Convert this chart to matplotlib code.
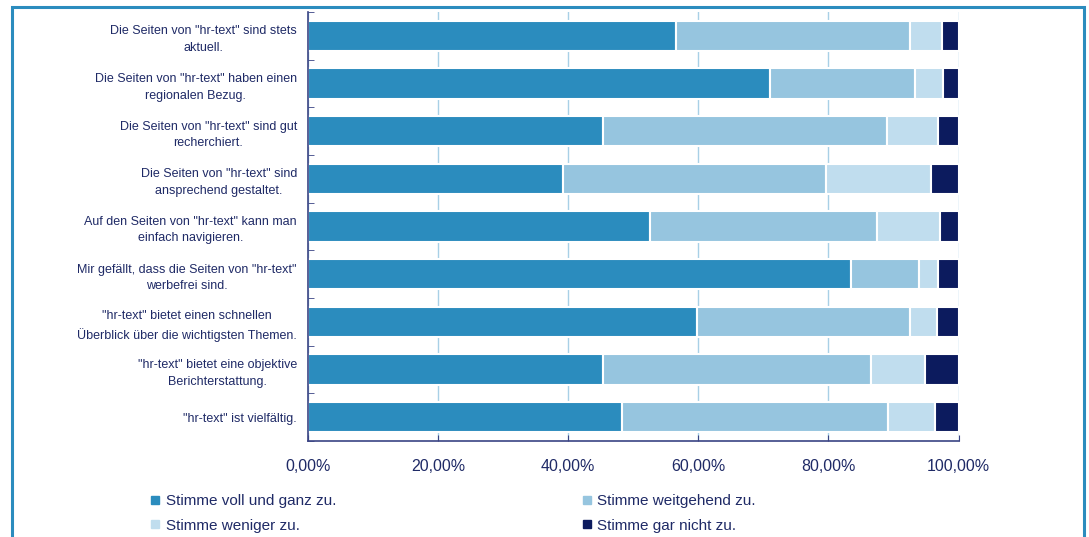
import numpy as np
import matplotlib
matplotlib.use("Agg")
import matplotlib.pyplot as plt
from matplotlib.lines import Line2D
from matplotlib.patches import Rectangle

plt.rcParams['font.family'] = ['Liberation Sans', 'DejaVu Sans']

# Statements (top to bottom)
labels = [
    'Die Seiten von "hr-text" sind stets\naktuell.',
    'Die Seiten von "hr-text" haben einen\nregionalen Bezug.',
    'Die Seiten von "hr-text" sind gut\nrecherchiert.',
    'Die Seiten von "hr-text" sind\nansprechend gestaltet.',
    'Auf den Seiten von "hr-text" kann man\neinfach navigieren.',
    'Mir gefällt, dass die Seiten von "hr-text"\nwerbefrei sind.',
    '"hr-text" bietet einen schnellen\nÜberblick über die wichtigsten Themen.',
    '"hr-text" bietet eine objektive\nBerichterstattung.',
    '"hr-text" ist vielfältig.',
]

# shares in percent
voll = [56.6, 71.0, 45.3, 39.2, 52.5, 83.5, 59.8, 45.3, 48.2]
weitgehend = [36.0, 22.3, 43.7, 40.5, 34.9, 10.5, 32.7, 41.3, 41.0]
weniger = [4.8, 4.3, 7.8, 16.0, 9.8, 2.8, 4.2, 8.2, 7.2]
gar_nicht = [2.6, 2.4, 3.2, 4.3, 2.8, 3.2, 3.3, 5.2, 3.6]

series_names = ['Stimme voll und ganz zu.', 'Stimme weitgehend zu.',
                'Stimme weniger zu.', 'Stimme gar nicht zu.']
colors = ['#2b8cbe', '#96c5df', '#c0ddee', '#0c1b5e']
text_col = '#1f2a66'

W, H = 1089, 537
fig = plt.figure(figsize=(W / 100, H / 100), dpi=100)
ax = fig.add_axes([308 / W, 1 - 441 / H, (958.5 - 308) / W, (441 - 12) / H])

y = np.arange(len(labels))
left = np.zeros(len(labels))
for vals, c in zip([voll, weitgehend, weniger, gar_nicht], colors):
    v = np.array(vals) / 100
    ax.barh(y, v, left=left, height=0.63, color=c, edgecolor='white',
            linewidth=1.5, zorder=2)
    left += v

ax.set_ylim(len(labels) - 0.5, -0.5)
ax.set_xlim(0, 1)

ax.set_xticks(np.arange(0, 1.01, 0.2))
ax.set_xticklabels([f'{int(t * 100)},00%' for t in np.arange(0, 1.01, 0.2)])
ax.grid(axis='x', color='#a8d0e6', linewidth=1.0, zorder=0)
ax.set_axisbelow(True)

ax.set_yticks(y)
ax.set_yticklabels(labels, multialignment='center', linespacing=1.5)
ax.set_yticks(np.arange(-0.5, len(labels), 1), minor=True)

for s in ['top', 'right']:
    ax.spines[s].set_visible(False)
for s in ['left', 'bottom']:
    ax.spines[s].set_color('#3a4484')
    ax.spines[s].set_linewidth(1.2)

ax.tick_params(axis='y', which='major', length=0, pad=8, labelsize=9,
               labelcolor=text_col)
ax.tick_params(axis='y', which='minor', length=4, direction='in',
               color='#3a4484')
ax.tick_params(axis='x', which='major', length=4, direction='in',
               color='#3a4484', pad=13, labelsize=11.5, labelcolor=text_col)

# legend is filled column by column, so reorder to get row-wise layout
order = [0, 2, 1, 3]
handles = [Line2D([], [], marker='s', linestyle='none', markersize=5.5,
                  markerfacecolor=colors[i], markeredgecolor=colors[i])
           for i in order]
fig.legend(handles, [series_names[i] for i in order], ncol=2, loc='upper left',
           bbox_to_anchor=(149 / W, 1 - 494 / H), frameon=False,
           fontsize=11, labelcolor=text_col, handlelength=0.8,
           handletextpad=0.3, columnspacing=16.0, labelspacing=0.7,
           borderpad=0, borderaxespad=0)

# blue frame around the chart
fig.add_artist(Rectangle((12 / W, -0.05), (1084 - 12) / W, 1.05 - 7 / H,
                         transform=fig.transFigure, fill=False,
                         edgecolor='#2b8cbe', linewidth=2.2))

fig.savefig('out.png', dpi=100)
